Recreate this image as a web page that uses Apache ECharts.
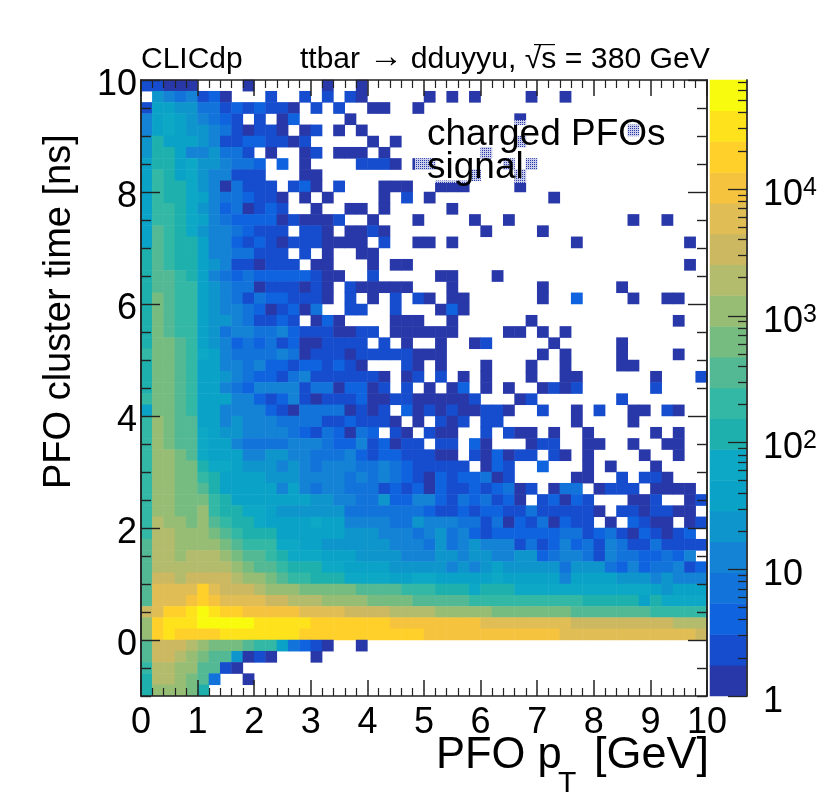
<!DOCTYPE html>
<html>
<head>
<meta charset="utf-8">
<title>PFO cluster time</title>
<script src="https://cdn.jsdelivr.net/npm/echarts@6/dist/echarts.min.js"></script>
<style>
html, body { margin: 0; padding: 0; background: #fff; }
#main { width: 830px; height: 800px; }
</style>
</head>
<body>
<div id="main"></div>
<script>
'use strict';

// colour bar bands, bottom to top (ROOT bird palette, 20 contours)
var levelColors = ['#2838a8', '#154dce', '#0f63df', '#1273da', '#1483d6', '#0e95cc', '#0aa2c7', '#0ca8c5', '#1eb0ad', '#32b8a4',
    '#53b995', '#76bc80', '#97bd75', '#b3bb6c', '#cdb862', '#e0bd55', '#f5c33e', '#ffd02a', '#fee31c', '#f9fb0e'];
var levelDecades = 0.243; // width of one band in log10(entries)

var xTickLabels = [0, 1, 2, 3, 4, 5, 6, 7, 8, 9, 10];
var yTickLabels = [0, 2, 4, 6, 8, 10];
var yMinorTicks = [-1, -0.5, 0.5, 1, 1.5, 2.5, 3, 3.5, 4.5, 5, 5.5, 6.5, 7, 7.5, 8.5, 9, 9.5];
var zDecades = [1, 10, 100, 1000, 10000];
var zMinorTicks = [2, 3, 4, 5, 6, 7, 8, 9, 20, 30, 40, 50, 60, 70, 80, 90, 200, 300, 400, 500, 600, 700, 800, 900,
    2000, 3000, 4000, 5000, 6000, 7000, 8000, 9000, 20000, 30000, 40000, 50000, 60000, 70000];

// histogram: top row (9.8-10 ns) first, 50 pT bins per row
// each char is the colour band of the cell: 1-9, a-k(=10..20), '.' is an empty cell
var rows = [
'22111 ....1 ..... .1..1 ..... ..... ..... ..... ..... .....',
'.6545 231.. .2..2 .2.21 ..... 1.1.1 ....1 ..1.. ..... .....',
'27766 44232 3221. 2.2.. 11..1 ..... ..... ..... ..... .....',
'57876 5432. 2.13. ...1. ..... ..... ...1. ..... ..... .....',
'57876 65421 221.1 2.1.1 ..... ..... ..... ..... ...1. .....',
'69777 65223 32212 ..... 1.1.. ..... ...1. ..... ..... .....',
'69975 56442 .1..1 2.111 .1... ..... 1.... ..... ..... .....',
'79978 66544 3.3.1 ....2 221.1 1.... ..1.1 ..... ..... .....',
'7a978 65522 2...1 1.... ..... ....1 ...1. ..... ..... .....',
'7a998 65142 22.23 1.2.. .111. .111. ...1. ..... ..... .....',
'7a998 75443 221.1 .1... .1.2. 1.... ..... .1... ..... .....',
'7aa98 65341 232.. 1..11 .1... ..1.. ..... ..... ..... .....',
'7aa98 75433 33121 112.. 1...1 ....1 ..1.. ..... ...1. .1...',
'7ba98 65543 222.2 21.11 21... ..... 1.... 1.... ..... .....',
'7ba99 75532 32122 21111 .2..1 1.1.. ..... ...1. ..... ...1.',
'9ba99 75544 222.2 .1..1 1.... ..... ..... ..... ..... .....',
'9ba99 76522 1222. 11... 1.11. ..... ..... ..... ..... ...1.',
'9bba9 75434 33333 211.. 2.... .11.. .1... ..... ..... .....',
'9bbaa 76544 12221 21.21 1111. ..1.. ..... 1.... ..1.. .....',
'9cbaa 76542 43322 21.2. 1.2.2 1.11. ..... 1..3. ...1. .11..',
'9cbaa 76554 31231 4..22 ..2.. .131. ..... ..... ..... .....',
'9cbaa 76654 2232. 131.. ..111 ..1.. ....1 ..... ..... ..1..',
'9cbaa 76455 44532 22112 2.111 111.. ..11. 1.1.. ..... .....',
'9ccba 76534 34231 12222 .2.1. .1..1 2.... .1... ..1.. .....',
'accba 87544 44541 22212 22221 11... ..... 1.1.. ..1.. ..1..',
'9ccba 77554 53323 32321 ...21 .1... 1...1 ..1.. ..11. .....',
'9ccba 77654 33245 22222 21.12 .2.1. 1...1 ..11. ..... 1...2',
'9ccba 77543 55552 44133 12.2. 1.13. 1.1.. 1212. ..... 2....',
'accba 77755 32352 12223 11221 11112 ...12 ..... ..2.. .....',
'7ccba 77555 53214 44412 12.31 21211 221.. 2..1. 2..11 .21..',
'adcbb 77565 55444 42232 221.1 .212. 22... ...1. ...1. .....',
'adcbb 87665 55543 24314 3.21. 211.. 2.211 .1..1 ..... 1.1..',
'adcbb 87754 44455 54335 23122 .22.3 1...1 22..1 1..1. .11..',
'addcb 87775 56655 44453 23322 211.2 13122 .21.1 ....1 ..1..',
'addcc 98876 66565 45554 45432 2222. 132.. 3...1 .1... 1....',
'addcc a9777 76665 55545 45432 13233 412.. ...11 ..2.2 21...',
'addcc b9777 77575 45544 42323 13223 23412 .144. 1222. 1111.',
'addcc ca977 77777 66554 46335 53243 4231. 23132 ...11 2..12',
'addcc da998 87666 66644 44444 32232 33224 22222 1.221 2211.',
'aeddc dba99 87777 87755 55446 55544 24132 41322 .1.32 11.12',
'aeedd dcba9 99777 77766 65554 56453 23333 33442 34213 2123.',
'beedd ddcba aa887 76666 66555 46456 55524 23534 25422 42222',
'beede eedcb ba988 87776 66655 56656 65566 34554 25443 3435.',
'beeee eeedc bba99 98877 77666 66565 67666 66466 64353 44523',
'bffef fffed dcbaa 99988 88778 87777 78777 77577 77666 56555',
'bgggg igfff edddc ccccb bbbaa a9998 99988 88888 88888 76777',
'bgggh ihggg gffee edddd ccccb bbbba aaaaa aaaa9 99997 98888',
'fgiij kjiih hhhhg gggff ffeee edddd dcccc cccbb bbbbb aaaaa',
'dijjj kkkkk jjjjj iiiii iihhh hhhhh ggggg gggff fffff ffeee',
'dijii iijjj jjjji iiiii iiiii hhhhh hhhhh hhggg ggggg ggggf',
'bfffe dcccb aa743 21..1 ..... ..... ..... ..... ..... .....',
'bffed cbb61 21... 1.... ..... ..... ..... ..... ..... .....',
'aeedd bb21. ..... ..... ..... ..... ..... ..... ..... .....',
'9eedc b4..1 ..... ..... ..... ..... ..... ..... ..... .....',
'9dddc 9.... ..... ..... ..... ..... ..... ..... ..... .....'
];

var xBins = [];
var yBins = [];
for (var i = 0; i < 50; i++) xBins.push((i * 0.2).toFixed(1));
for (var j = 0; j < 55; j++) yBins.push((-1 + j * 0.2).toFixed(1));

var codes = '123456789abcdefghijk';

function bandCount(level) {
    // middle of the band, in entries
    return Math.pow(10, (level + 0.5) * levelDecades);
}

var cells = [];
rows.forEach(function(row, r) {
    var chars = row.replace(/ /g, '');
    for (var c = 0; c < chars.length; c++) {
        var level = codes.indexOf(chars[c]);
        if (level >= 0) cells.push([c, 54 - r, bandCount(level)]);
    }
});

var bandCells = levelColors.map(function(col, k) {
    return [0, k, bandCount(k)];
});

var pieces = levelColors.map(function(col, k) {
    return {
        min: Math.pow(10, k * levelDecades),
        max: Math.pow(10, (k + 1) * levelDecades),
        color: col
    };
});

// legend box of the original sits on top of the cells with a dotted fill
function legendPattern() {
    var cv = document.createElement('canvas');
    cv.width = 2;
    cv.height = 2;
    var ctx = cv.getContext('2d');
    ctx.fillStyle = 'rgba(255,255,255,0.75)';
    ctx.fillRect(0, 0, 2, 2);
    ctx.clearRect(0, 0, 1, 1);
    return cv;
}

var lineColor = '#222';
var fontName = '"Liberation Sans", Arial, sans-serif';

// y is the top of the text box, baseline is about 0.82 * size below it
function plainText(text, x, baseline, size, extra) {
    var style = { text: text, x: x, y: baseline - 0.82 * size, fill: '#000', font: size + 'px ' + fontName, textAlign: 'left', textVerticalAlign: 'top' };
    for (var k in extra) style[k] = extra[k];
    return { type: 'text', z: 20, style: style };
}

var chart = echarts.init(document.getElementById('main'), null, { renderer: 'canvas' });

function valueAxisX(pos, labels) {
    return {
        type: 'value', gridIndex: 0, position: pos, min: 0, max: 10, interval: 1, z: 5,
        splitLine: { show: false },
        axisLine: { show: true, onZero: false, lineStyle: { color: lineColor, width: 1.5 } },
        axisTick: { show: true, inside: true, length: 16, lineStyle: { color: lineColor, width: 1.5 } },
        minorTick: { show: true, splitNumber: 5, length: 8, lineStyle: { color: lineColor, width: 1.2 } },
        axisLabel: { show: labels, margin: 9, color: '#000', fontSize: 36, fontFamily: fontName, hideOverlap: false,
            showMinLabel: true, showMaxLabel: true,
            formatter: function(v) { return xTickLabels.indexOf(v) >= 0 ? String(v) : ''; } }
    };
}

function valueAxisY(pos, ticks, len, labels) {
    return {
        type: 'value', gridIndex: 0, position: pos, min: -1, max: 10, z: 5,
        splitLine: { show: false },
        axisLine: { show: true, onZero: false, lineStyle: { color: lineColor, width: 1.5 } },
        axisTick: { show: true, inside: true, length: len, customValues: ticks, lineStyle: { color: lineColor, width: 1.4 } },
        axisLabel: {
            show: labels, customValues: ticks, margin: 4, padding: [10, 0, 0, 0],
            formatter: function(v) { return '{a|' + v + '}'; },
            rich: { a: { fontSize: 36, fontFamily: fontName, color: '#000' } }
        }
    };
}

function zAxis(ticks, len, labels) {
    return {
        type: 'log', logBase: 10, gridIndex: 1, position: 'right', min: 1, max: Math.pow(10, 20 * levelDecades), z: 5,
        splitLine: { show: false },
        axisLine: { show: true, lineStyle: { color: '#333', width: 1.5 } },
        axisTick: { show: true, inside: true, length: len, customValues: ticks, lineStyle: { color: '#222', width: 1.3 } },
        axisLabel: {
            show: labels, customValues: ticks, margin: 16, color: '#000', fontFamily: fontName, padding: [12, 0, 0, 0],
            formatter: function(v) {
                if (v < 50) return '{a|' + Math.round(v) + '}';
                return '{a|10}{b|' + Math.round(Math.log(v) / Math.LN10) + '}';
            },
            rich: {
                a: { fontSize: 36, fontFamily: fontName, color: '#000' },
                b: { fontSize: 25, fontFamily: fontName, color: '#000', verticalAlign: 'top', padding: [0, 0, 14, 0] }
            }
        }
    };
}

var option = {
    animation: false,
    backgroundColor: '#fff',
    grid: [
        { left: 141, top: 80, width: 566, height: 616, show: false },
        { left: 710, top: 80, width: 37, height: 616, show: false }
    ],
    xAxis: [
        { type: 'category', gridIndex: 0, data: xBins, show: false },
        { type: 'category', gridIndex: 1, data: ['z'], show: false },
        valueAxisX('bottom', true),
        valueAxisX('top', false)
    ],
    yAxis: [
        { type: 'category', gridIndex: 0, data: yBins, show: false },
        { type: 'category', gridIndex: 1, data: levelColors.map(function(c, k) { return String(k); }), show: false },
        valueAxisY('left', yTickLabels, 19, true),
        valueAxisY('left', yMinorTicks, 10, false),
        valueAxisY('right', yTickLabels, 19, false),
        valueAxisY('right', yMinorTicks, 10, false),
        zAxis(zDecades, 19, true),
        zAxis(zMinorTicks, 9, false)
    ],
    visualMap: {
        show: false, type: 'piecewise', seriesIndex: [0, 1], dimension: 2, pieces: pieces
    },
    series: [
        { type: 'heatmap', xAxisIndex: 0, yAxisIndex: 0, data: cells, progressive: 0, emphasis: { disabled: true }, itemStyle: { borderWidth: 0 } },
        { type: 'heatmap', xAxisIndex: 1, yAxisIndex: 1, data: bandCells, progressive: 0, emphasis: { disabled: true }, itemStyle: { borderWidth: 0 } }
    ],
    graphic: [
        { type: 'rect', z: 10, shape: { x: 415, y: 120, width: 230, height: 63 }, style: { fill: { image: legendPattern(), repeat: 'repeat' } } },
        plainText('CLICdp', 141, 69, 30),
        plainText('ttbar', 300, 69, 30),
        plainText('\u2192', 369, 69, 34),
        plainText('dduyyu, \u221As = 380 GeV', 710, 69, 30.2, { textAlign: 'right' }),
        { type: 'rect', z: 20, shape: { x: 534, y: 44, width: 21, height: 1.2 }, style: { fill: '#000' } },
        plainText('charged PFOs', 427, 147, 37),
        plainText('signal', 427, 180, 37),
        plainText('PFO p', 436, 770, 43.5),
        plainText('T', 558, 793, 30),
        plainText('[GeV]', 594, 770, 45),
        { type: 'text', z: 20, x: 41, y: 489, rotation: Math.PI / 2,
          style: { text: 'PFO cluster time [ns]', x: 0, y: 0, fill: '#000', font: '38px ' + fontName, textAlign: 'left', textVerticalAlign: 'top' } }
    ]
};

chart.setOption(option);
</script>
</body>
</html>
